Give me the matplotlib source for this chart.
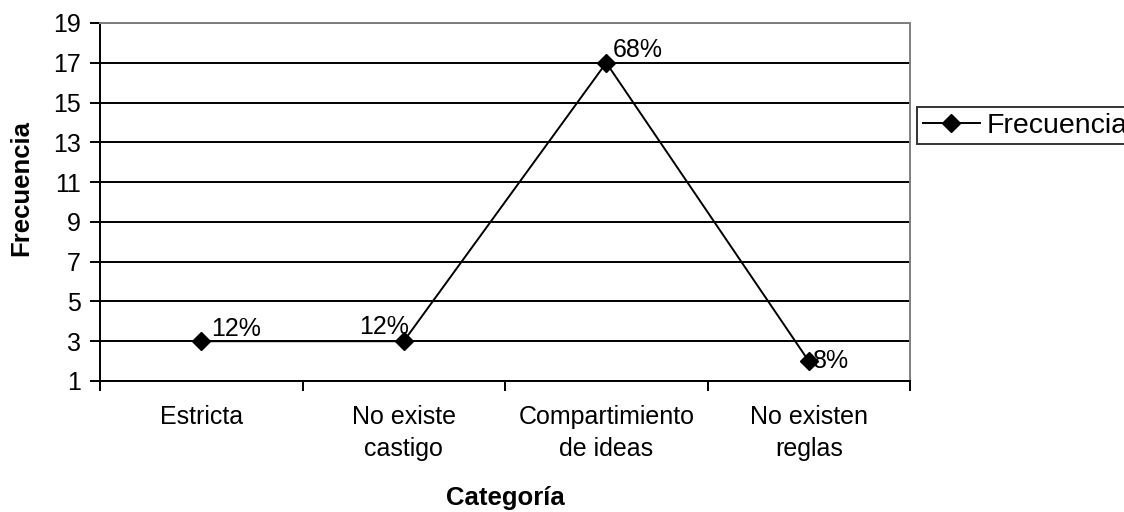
import matplotlib.pyplot as plt

plt.rcParams['font.family'] = ['Liberation Sans', 'DejaVu Sans']

categories = ['Estricta', 'No existe\ncastigo', 'Compartimiento\nde ideas', 'No existen\nreglas']
frecuencia = [3, 3, 17, 2]
porcentajes = ['12%', '12%', '68%', '8%']
y_ticks = list(range(1, 20, 2))

fig = plt.figure(figsize=(11.24, 5.12), dpi=100)
ax = fig.add_axes([100 / 1124, 1 - 381 / 512, 810 / 1124, 358 / 512])

x = list(range(len(categories)))

# horizontal grid lines
for t in y_ticks:
    ax.axhline(t, color='black', linewidth=1.4, zorder=1)

ax.plot(x, frecuencia, color='black', linewidth=1.4, marker='D', markersize=9,
        label='Frecuencia', zorder=3)

# data labels (offset in points from the marker)
offsets = [(7, 9, 'left'), (4, 10, 'right'), (5, 9, 'left'), (3, 0, 'left')]
for xi, yi, txt, (dx, dy, ha) in zip(x, frecuencia, porcentajes, offsets):
    ax.annotate(txt, (xi, yi), xytext=(dx, dy), textcoords='offset points',
                ha=ha, va='center', fontsize=18)

ax.set_xlim(-0.5, len(categories) - 0.5)
ax.set_ylim(1, 19)
ax.set_yticks(y_ticks)
ax.set_xticks(x)
ax.set_xticklabels(categories, fontsize=18)
for lbl in ax.get_xticklabels():
    lbl.set_linespacing(1.45)
ax.set_xticks([i - 0.5 for i in range(len(categories) + 1)], minor=True)
ax.tick_params(axis='x', which='major', length=0, pad=17)
ax.tick_params(axis='x', which='minor', length=7, width=1.4, direction='out')
ax.tick_params(axis='y', length=7, width=1.4, direction='out', labelsize=18, pad=7)

for side in ['top', 'right']:
    ax.spines[side].set_color('gray')
    ax.spines[side].set_linewidth(1.4)
for side in ['left', 'bottom']:
    ax.spines[side].set_color('black')
    ax.spines[side].set_linewidth(1.4)

ax.set_xlabel('Categoría', fontsize=18.5, fontweight='bold')
ax.xaxis.set_label_coords(0.5, -0.293)
ax.set_ylabel('Frecuencia', fontsize=18.5, fontweight='bold')
ax.yaxis.set_label_coords(-0.083, 0.54)

leg = fig.legend(loc='upper left', bbox_to_anchor=(917 / 1124, 1 - 107 / 512),
                 fontsize=20.5, frameon=True, fancybox=False, edgecolor='black',
                 handlelength=2.0, handletextpad=0.25, borderpad=0.2,
                 borderaxespad=0)
leg.get_frame().set_linewidth(1.4)

fig.savefig('out.png', dpi=100)
